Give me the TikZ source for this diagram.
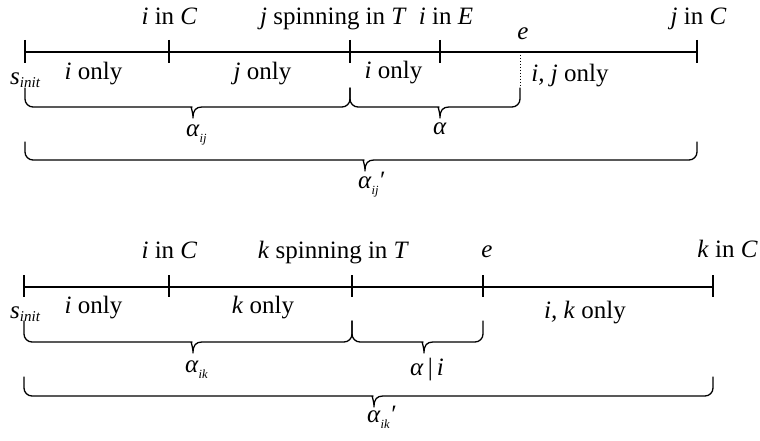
\documentclass[tikz,border=0pt]{standalone}
\usepackage{fontspec}
\setmainfont{Liberation Serif}
\newcommand{\lowsub}[1]{\raisebox{-6pt}{\fontsize{12.5}{12.5}\selectfont\itshape #1}}
\newcommand{\sinitlabel}{\textit{s}\raisebox{-3pt}{\fontsize{15}{15}\selectfont\itshape init}}
\newcommand{\tlbrace}[5]{% x1, x2, tip x, arm top y, horizontal y
  \draw[bracepen] (#1,#4) [rounded corners=8pt] -- (#1,#5) -- (#3-9,#5) [sharp corners]
    .. controls (#3-3,#5) and (#3,#5+3) .. (#3,#5+11)
    .. controls (#3,#5+3) and (#3+3,#5) .. (#3+9,#5) [rounded corners=8pt]
    -- (#2,#5) -- (#2,#4);}
\begin{document}
\begin{tikzpicture}[x=1pt,y=-1pt,
  lbl/.style={font=\fontsize{25}{30}\selectfont, inner sep=0pt, anchor=base},
  axis/.style={line width=1.3pt},
  bracepen/.style={line width=1.3pt, line cap=round, line join=round}]
\useasboundingbox (0,0) rectangle (760,441);

% ---------- upper timeline ----------
\coordinate (a0) at (25,52);
\coordinate (a1) at (169,52);
\coordinate (a2) at (350,52);
\coordinate (a3) at (440,52);
\coordinate (ae) at (520,52);
\coordinate (a4) at (697,52);
\coordinate (aeb) at (520,88);
\draw[axis] (a0) -- (a4);
\foreach \t in {a0,a1,a2,a3,a4}
  \draw[axis] ([yshift=12pt]\t) -- ([yshift=-11pt]\t);
\draw[dotted, line width=1pt] (ae) -- (aeb);

\node[lbl] (uiC) at (169.5,25) {\textit{i} in \textit{C}};
\node[lbl] (ujT) at (333.5,25) {\textit{j} spinning in \textit{T}};
\node[lbl] (uiE) at (446,25) {\textit{i} in \textit{E}};
\node[lbl] (ue) at (523,40) {\textit{e}};
\node[lbl] (ujC) at (698.5,25) {\textit{j} in \textit{C}};

\node[lbl, anchor=base west] (us) at (10,85) {\sinitlabel};
\node[lbl] (uio1) at (93.5,80) {\textit{i} only};
\node[lbl] (ujo) at (262.5,80) {\textit{j} only};
\node[lbl] (uio2) at (393.5,79) {\textit{i} only};
\node[lbl] (uijo) at (570,82) {\textit{i, j} only};

\tlbrace{25}{350}{193}{88}{107}
\tlbrace{350}{520}{440}{88}{107}
\tlbrace{25}{697}{365}{142}{160}

\node[lbl, anchor=base west] (ualij) at (186,136) {\textit{α}\lowsub{ij}};
\node[lbl] (ual) at (440,135) {\textit{α}};
\node[lbl, anchor=base west] (ualijp) at (358,188) {\textit{α}\lowsub{ij}\textit{′}};

% ---------- lower timeline ----------
\coordinate (b0) at (24,287);
\coordinate (b1) at (169,287);
\coordinate (b2) at (352,287);
\coordinate (b3) at (483,287);
\coordinate (b4) at (713,287);
\draw[axis] (b0) -- (b4);
\foreach \t in {b0,b1,b2,b3,b4}
  \draw[axis] ([yshift=12pt]\t) -- ([yshift=-10pt]\t);

\node[lbl] (liC) at (169.5,258) {\textit{i} in \textit{C}};
\node[lbl] (lkT) at (333.5,258) {\textit{k} spinning in \textit{T}};
\node[lbl] (le) at (487,257) {\textit{e}};
\node[lbl, anchor=base east] (lkC) at (758,257) {\textit{k} in \textit{C}};

\node[lbl, anchor=base west] (ls) at (10,318) {\sinitlabel};
\node[lbl] (lio) at (93.5,313) {\textit{i} only};
\node[lbl] (lko) at (263,313) {\textit{k} only};
\node[lbl] (liko) at (585,318) {\textit{i, k} only};

\tlbrace{24}{352}{193}{321}{342}
\tlbrace{352}{483}{424}{321}{342}
\tlbrace{24}{713}{374}{377}{396}

\node[lbl, anchor=base west] (lalik) at (185,372) {\textit{α}\lowsub{ik}};
\node[lbl] (lali) at (427,375) {\textit{α}\,|\,\textit{i}};
\node[lbl, anchor=base west] (lalikp) at (367,422) {\textit{α}\lowsub{ik}\textit{′}};
\end{tikzpicture}
\end{document}
